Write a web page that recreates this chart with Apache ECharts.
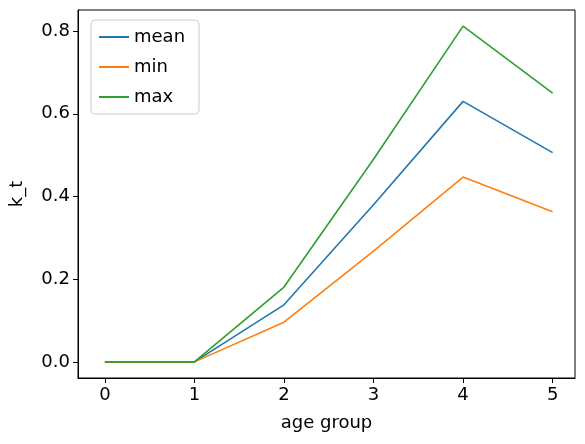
<!DOCTYPE html>
<html><head><meta charset="utf-8">
<script src="https://cdn.jsdelivr.net/npm/echarts@6/dist/echarts.min.js"></script>
<style>html,body{margin:0;padding:0;background:#fff}#c{width:585px;height:444px}</style>
</head><body><div id="c"></div>
<script>
const ageGroups = [0,1,2,3,4,5];
const meanVals = [0,0,0.138,0.38,0.63,0.506];
const minVals = [0,0,0.096,0.268,0.447,0.363];
const maxVals = [0,0,0.181,0.49,0.812,0.65];
const xTicks = [0,1,2,3,4,5];
const yTicks = [0,0.2,0.4,0.6,0.8];
const font = 'DejaVu Sans';
const mk = (name, vals, color) => ({name, type:'line', data: ageGroups.map((a,i)=>[a, vals[i]]),
  showSymbol:false, lineStyle:{color, width:1.6}, itemStyle:{color}});
const chart = echarts.init(document.getElementById('c'));
chart.setOption({
  animation:false,
  grid:{left:76,right:10,top:10,bottom:66,show:true,borderColor:'#000',borderWidth:1},
  legend:{left:91,top:20,orient:'vertical',itemWidth:30,itemHeight:2,itemGap:12,
    padding:[8,14,8,8],borderColor:'#ccc',borderWidth:1,borderRadius:4,
    textStyle:{fontFamily:font,fontSize:18,color:'#000'},
    icon:'rect', data:['mean','min','max']},
  xAxis:{type:'value',min:-0.3,max:5.25,
    name:'age group',nameLocation:'middle',nameGap:36,
    nameTextStyle:{fontFamily:font,fontSize:18,color:'#000'},
    axisLine:{onZero:false,lineStyle:{color:'#000'}},
    axisTick:{show:true,length:5,lineStyle:{color:'#000'},customValues:xTicks},
    axisLabel:{fontFamily:font,fontSize:18,color:'#000',customValues:xTicks,formatter:v=>String(v)},
    splitLine:{show:false}},
  yAxis:{type:'value',min:-0.039,max:0.851,
    name:'k_t',nameLocation:'middle',nameGap:52,
    nameTextStyle:{fontFamily:font,fontSize:18,color:'#000'},
    axisLine:{show:true,onZero:false,lineStyle:{color:'#000'}},
    axisTick:{show:true,length:5,lineStyle:{color:'#000'},customValues:yTicks},
    axisLabel:{fontFamily:font,fontSize:18,color:'#000',customValues:yTicks,formatter:v=>v.toFixed(1)},
    splitLine:{show:false}},
  series:[mk('mean',meanVals,'#1f77b4'),mk('min',minVals,'#ff7f0e'),mk('max',maxVals,'#2ca02c')]
});
</script></body></html>
